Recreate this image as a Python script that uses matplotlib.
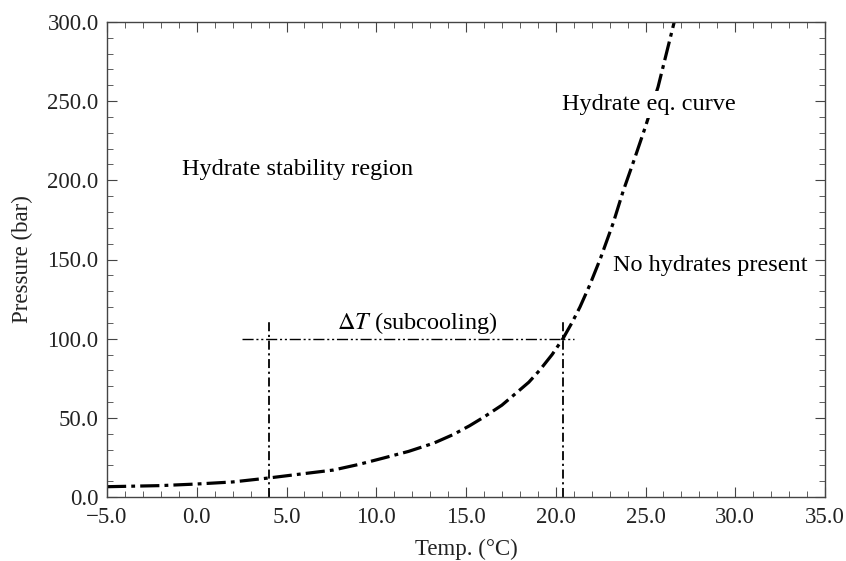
import matplotlib.pyplot as plt
import numpy as np
from matplotlib.ticker import MultipleLocator, FuncFormatter

# hydrate equilibrium curve
temp = [-5, -2, 0, 2, 4, 6, 7.6, 9, 10.4, 11.8, 13.2, 14.3, 15.2, 16, 17, 17.8,
        18.5, 19.1, 19.8, 20.4, 20.9, 21.35, 21.9, 22.5, 23.2, 23.75, 24.4,
        25.0, 25.7, 26.6]
pres = [6.5, 7.2, 8.2, 9.5, 12, 14.8, 17, 20.5, 24.6, 28.8, 34, 39.5, 45, 50.5,
        58, 65.7, 72.5, 80, 90, 100, 110, 120, 134, 151, 173, 193, 214,
        234, 259, 300]

t_low, t_eq, p_op = 4.0, 20.4, 100.0

plt.rcParams['font.family'] = ['Liberation Serif', 'DejaVu Serif']
plt.rcParams['mathtext.fontset'] = 'stix'

fig = plt.figure(figsize=(8.46, 5.61), dpi=100)
ax = fig.add_axes([107/846, 1 - 497/561, (825-107)/846, (497-22)/561])

ax.plot(temp, pres, color='black', lw=2.3, dashes=(6, 1.6, 1.2, 1.6))
ax.plot([t_low, t_low], [0, 112], color='black', lw=1.3, dashes=(5, 2, 1.2, 2))
ax.plot([t_eq, t_eq], [0, 112], color='black', lw=1.3, dashes=(5, 2, 1.2, 2))
ax.plot([2.5, 21], [p_op, p_op], color='black', lw=1.0, dashes=(8, 2, 1.5, 2, 1.5, 2))

fs = 16.5
ft = 17.5
ax.text(5.6, 207, 'Hydrate stability region', fontsize=ft, ha='center', va='center')
ax.text(25.2, 248, 'Hydrate eq. curve', fontsize=ft, ha='center', va='center',
        bbox=dict(facecolor='white', edgecolor='none', pad=2))
ax.text(28.6, 146, 'No hydrates present', fontsize=ft, ha='center', va='center')
ax.text(12.3, 110, r'$\Delta T$ (subcooling)', fontsize=ft, ha='center', va='center')

ax.set_xlim(-5, 35)
ax.set_ylim(0, 300)
ax.xaxis.set_major_locator(MultipleLocator(5))
ax.xaxis.set_minor_locator(MultipleLocator(1))
ax.yaxis.set_major_locator(MultipleLocator(50))
ax.yaxis.set_minor_locator(MultipleLocator(10))
fmt = FuncFormatter(lambda v, p: ('%.1f' % v).replace('-', '\u2212'))
ax.xaxis.set_major_formatter(fmt)
ax.yaxis.set_major_formatter(fmt)
ax.tick_params(which='both', direction='in', top=True, right=True, labelsize=fs,
               color='#444444', labelcolor='#222222')
ax.tick_params(which='major', length=7)
ax.tick_params(which='minor', length=4)
ax.tick_params(axis='x', pad=7)
ax.tick_params(axis='y', pad=6)
for s in ax.spines.values():
    s.set_color('#444444')
    s.set_linewidth(1.0)

ax.set_xlabel('Temp. (°C)', fontsize=fs, color='#222222')
ax.set_ylabel('Pressure (bar)', fontsize=fs, color='#222222')
ax.xaxis.set_label_coords(0.5, -0.088)
ax.yaxis.set_label_coords(-0.103, 0.5)

fig.savefig('out.png', dpi=100)
